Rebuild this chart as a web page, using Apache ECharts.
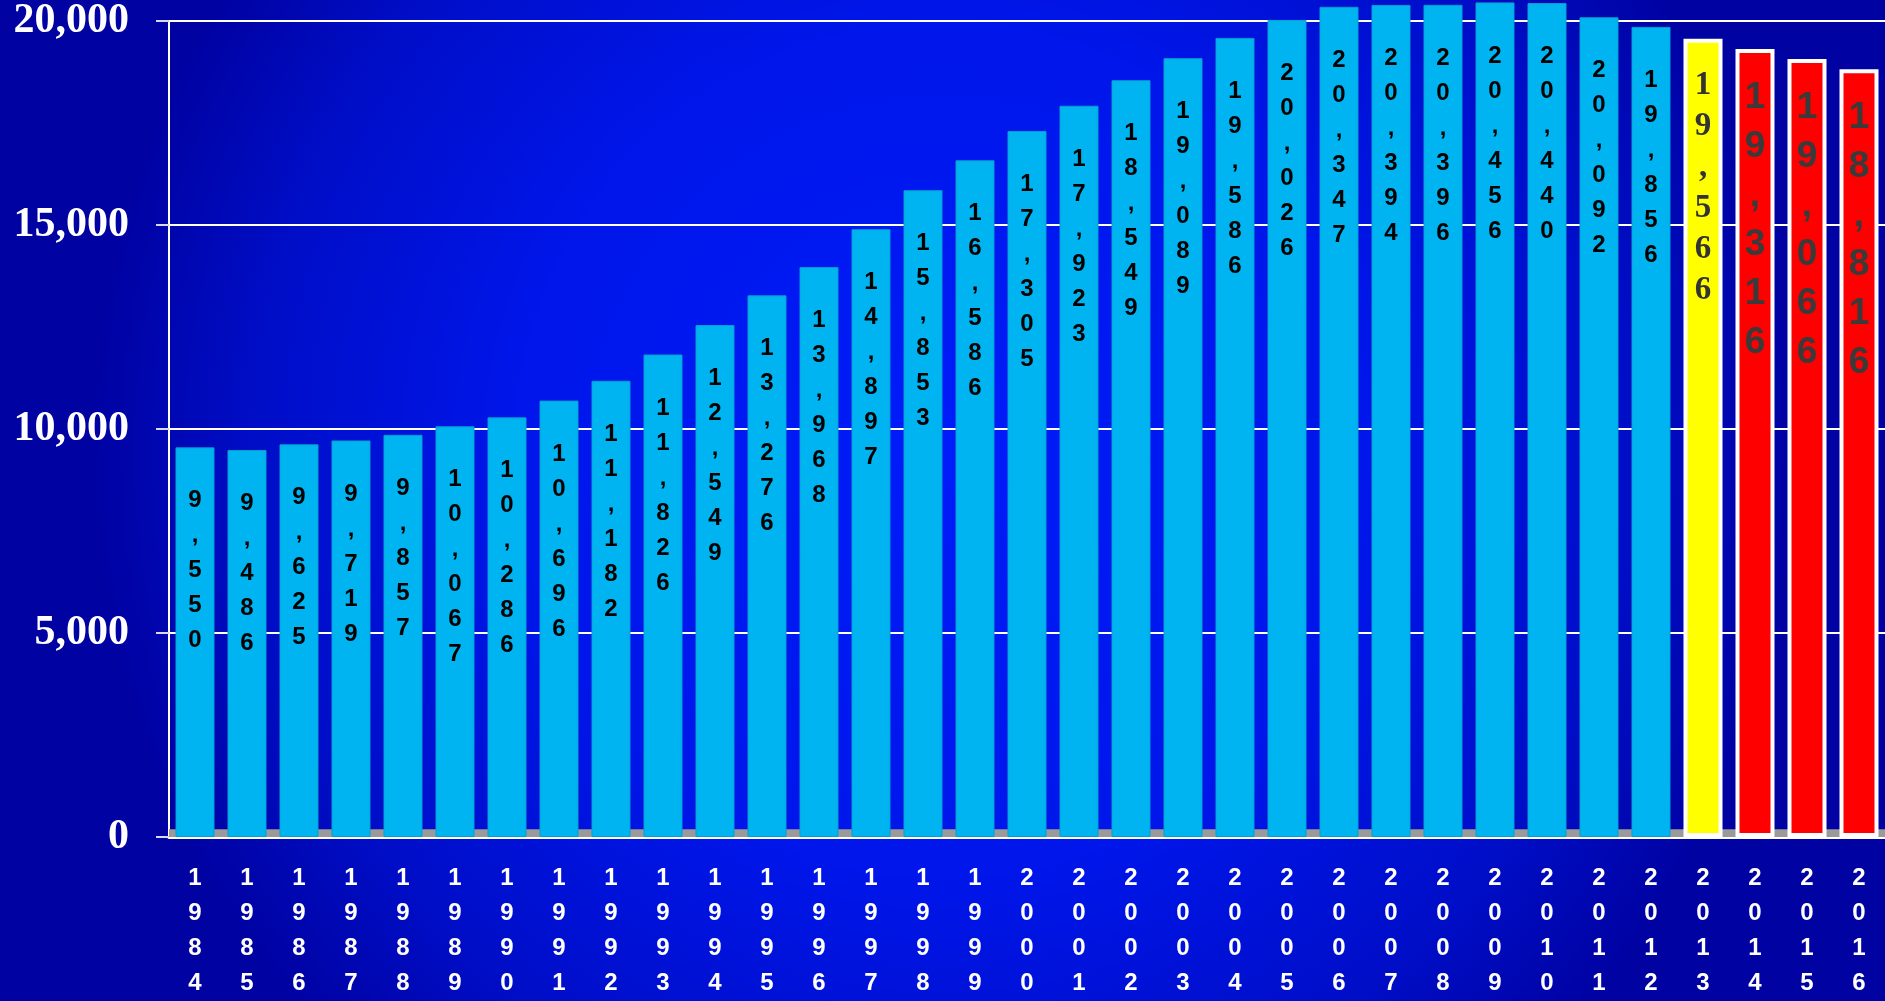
<!DOCTYPE html>
<html>
<head>
<meta charset="utf-8">
<script src="https://cdn.jsdelivr.net/npm/echarts@6/dist/echarts.min.js"></script>
<style>
html,body{margin:0;padding:0;width:1885px;height:1001px;overflow:hidden;background:#0008b0;}
#chart{width:1885px;height:1001px;}
</style>
</head>
<body>
<div id="chart"></div>
<script>
const years = ['1984','1985','1986','1987','1988','1989','1990','1991','1992','1993','1994','1995','1996','1997','1998','1999','2000','2001','2002','2003','2004','2005','2006','2007','2008','2009','2010','2011','2012','2013','2014','2015','2016'];
const values = [9550,9486,9625,9719,9857,10067,10286,10696,11182,11826,12549,13276,13968,14897,15853,16586,17305,17923,18549,19089,19586,20026,20347,20394,20396,20456,20440,20092,19856,19566,19316,19066,18816];
// bar kind: 'actual' (blue), 'current' (yellow), 'forecast' (red)
const kinds = ['actual','actual','actual','actual','actual','actual','actual','actual','actual','actual','actual','actual','actual','actual','actual','actual','actual','actual','actual','actual','actual','actual','actual','actual','actual','actual','actual','actual','actual','current','forecast','forecast','forecast'];
const yTicks = [0,5000,10000,15000,20000];

const vertical = s => s.split('').join('\n');
const fmt = v => v.toLocaleString('en-US');

const styles = {
  actual: {
    item: {color:'#00b4f2', borderColor:'#0a9ccc', borderWidth:1},
    label: {fontFamily:'"Liberation Sans", Arial, sans-serif', fontWeight:'bold', fontSize:24, lineHeight:35, color:'#000000', distance:36}
  },
  current: {
    item: {color:'#ffff00', borderColor:'#ffffff', borderWidth:4},
    label: {fontFamily:'"Liberation Serif", "Times New Roman", serif', fontWeight:'bold', fontSize:33, lineHeight:41, color:'#333333', distance:26}
  },
  forecast: {
    item: {color:'#ff0000', borderColor:'#ffffff', borderWidth:4},
    label: {fontFamily:'"Liberation Sans", Arial, sans-serif', fontWeight:'bold', fontSize:37, lineHeight:49, color:'#3a3a3a', distance:24}
  }
};

const barData = values.map((v,i) => {
  const st = styles[kinds[i]];
  return {
    value: v,
    itemStyle: st.item,
    label: Object.assign({show:true, position:'insideTop', textBorderWidth:0, textBorderColor:'transparent', formatter: () => vertical(fmt(v))}, st.label)
  };
});

const chart = echarts.init(document.getElementById('chart'), null, {renderer:'canvas'});
chart.setOption({
  animation: false,
  backgroundColor: {
    type:'radial', x:0.5, y:0.45, r:0.85,
    colorStops:[
      {offset:0, color:'#001cfa'},
      {offset:0.5, color:'#0016ea'},
      {offset:0.8, color:'#000ec8'},
      {offset:1, color:'#0002a2'}
    ]
  },
  grid: {left:169, right:-4, top:18, bottom:163, containLabel:false},
  xAxis: {
    type:'category',
    data: years,
    axisLine:{show:true, lineStyle:{color:'#ffffff', width:3}},
    axisTick:{show:false},
    axisLabel:{
      interval:0, margin:24,
      formatter: v => vertical(v),
      color:'#ffffff', fontFamily:'"Liberation Sans", Arial, sans-serif',
      fontWeight:'bold', fontSize:24, lineHeight:35
    }
  },
  yAxis: {
    type:'value',
    min: yTicks[0], max: yTicks[yTicks.length-1], interval: 5000,
    axisLine:{show:true, lineStyle:{color:'#ffffff', width:2}},
    axisTick:{show:true, length:13, lineStyle:{color:'#d8d8f0', width:2}},
    splitLine:{show:true, lineStyle:{color:'#ffffff', width:2}},
    axisLabel:{
      margin:40,
      formatter: v => fmt(v),
      color:'#ffffff', fontFamily:'"Liberation Serif", "Times New Roman", serif',
      fontWeight:'bold', fontSize:42
    }
  },
  series: [{
    type:'bar',
    data: barData,
    barWidth: 39,
    clip: false,
    z: 3,
    markArea: {
      silent:true,
      itemStyle:{color:'#9a9a9a'},
      data:[[{yAxis:0},{yAxis:190}]]
    }
  }]
});
</script>
</body>
</html>
